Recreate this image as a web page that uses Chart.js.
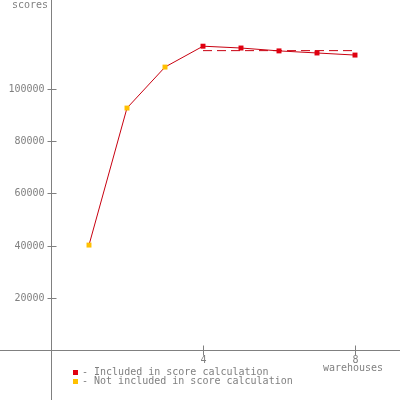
<!DOCTYPE html>
<html>
<head>
  <title>scores vs warehouses</title>
  <script src="https://cdn.jsdelivr.net/npm/chart.js"></script>
  <style>
    body { margin: 0; background: #fff; }
    #chart { display: block; }
  </style>
</head>
<body>
  <canvas id="chart" width="400" height="400"></canvas>
  <script>
    // data
    var warehouses = [1, 2, 3, 4, 5, 6, 7, 8];
    var scores = [40200, 92700, 108400, 116400, 115700, 114600, 113800, 113000];
    var included = [false, false, false, true, true, true, true, true];
    var avgRange = [4, 8];
    var avgScore = 114700;
    var yTicks = [20000, 40000, 60000, 80000, 100000];
    var xTicks = [4, 8];
    var legendItems = ['- Included in score calculation', '- Not included in score calculation'];

    var RED = '#e00010';
    var YELLOW = '#ffc000';
    var LINE = '#c80010';
    var GREY = '#808080';
    var FONT = '10px "DejaVu Sans Mono", monospace';

    var axesPlugin = {
      id: 'axes',
      afterDraw: function (chart) {
        var ctx = chart.ctx;
        var xs = chart.scales.x, ys = chart.scales.y;
        var x0 = Math.round(xs.getPixelForValue(0)) + 0.5;
        var y0 = Math.round(ys.getPixelForValue(0)) + 0.5;
        ctx.save();
        ctx.strokeStyle = GREY;
        ctx.lineWidth = 1;
        ctx.beginPath();
        ctx.moveTo(x0, 0); ctx.lineTo(x0, 400);
        ctx.moveTo(0, y0); ctx.lineTo(400, y0);
        ctx.stroke();

        ctx.fillStyle = GREY;
        ctx.font = FONT;
        ctx.textAlign = 'right';
        ctx.textBaseline = 'middle';
        yTicks.forEach(function (v) {
          var py = Math.round(ys.getPixelForValue(v)) + 0.5;
          ctx.beginPath();
          ctx.moveTo(x0 - 4, py); ctx.lineTo(x0 + 5, py);
          ctx.stroke();
          ctx.fillText(String(v), x0 - 7, py);
        });
        ctx.textAlign = 'center';
        ctx.textBaseline = 'top';
        xTicks.forEach(function (v) {
          var px = Math.round(xs.getPixelForValue(v)) + 0.5;
          ctx.beginPath();
          ctx.moveTo(px, y0 - 5); ctx.lineTo(px, y0 + 5);
          ctx.stroke();
          ctx.fillText(String(v), px, y0 + 5);
        });
        var px8 = xs.getPixelForValue(8);
        ctx.fillText('warehouses', px8 - 2, y0 + 13);

        ctx.textAlign = 'left';
        ctx.fillText('scores', 12, 0);

        ctx.textBaseline = 'middle';
        legendItems.forEach(function (t, i) {
          var ly = 372 + i * 9;
          ctx.fillStyle = i === 0 ? RED : YELLOW;
          ctx.fillRect(73, ly - 2, 5, 5);
          ctx.fillStyle = GREY;
          ctx.fillText(t, 82, ly);
        });
        ctx.restore();
      }
    };

    var ctx = document.getElementById('chart').getContext('2d');
    new Chart(ctx, {
      type: 'scatter',
      data: {
        datasets: [{
          data: warehouses.map(function (w, i) { return { x: w, y: scores[i] }; }),
          showLine: true,
          borderColor: LINE,
          borderWidth: 1,
          pointStyle: 'rect',
          pointRadius: 3.5,
          pointBorderWidth: 0,
          pointBackgroundColor: included.map(function (f) { return f ? RED : YELLOW; })
        }, {
          data: avgRange.map(function (w) { return { x: w, y: avgScore }; }),
          showLine: true,
          borderColor: LINE,
          borderWidth: 1,
          borderDash: [9, 5],
          pointRadius: 0
        }]
      },
      options: {
        responsive: false,
        animation: false,
        layout: { padding: 0, autoPadding: false },
        plugins: { legend: { display: false }, tooltip: { enabled: false } },
        scales: {
          x: { type: 'linear', min: -1.342, max: 9.184, display: false },
          y: { type: 'linear', min: -19160, max: 134100, display: false }
        }
      },
      plugins: [axesPlugin]
    });
  </script>
</body>
</html>
